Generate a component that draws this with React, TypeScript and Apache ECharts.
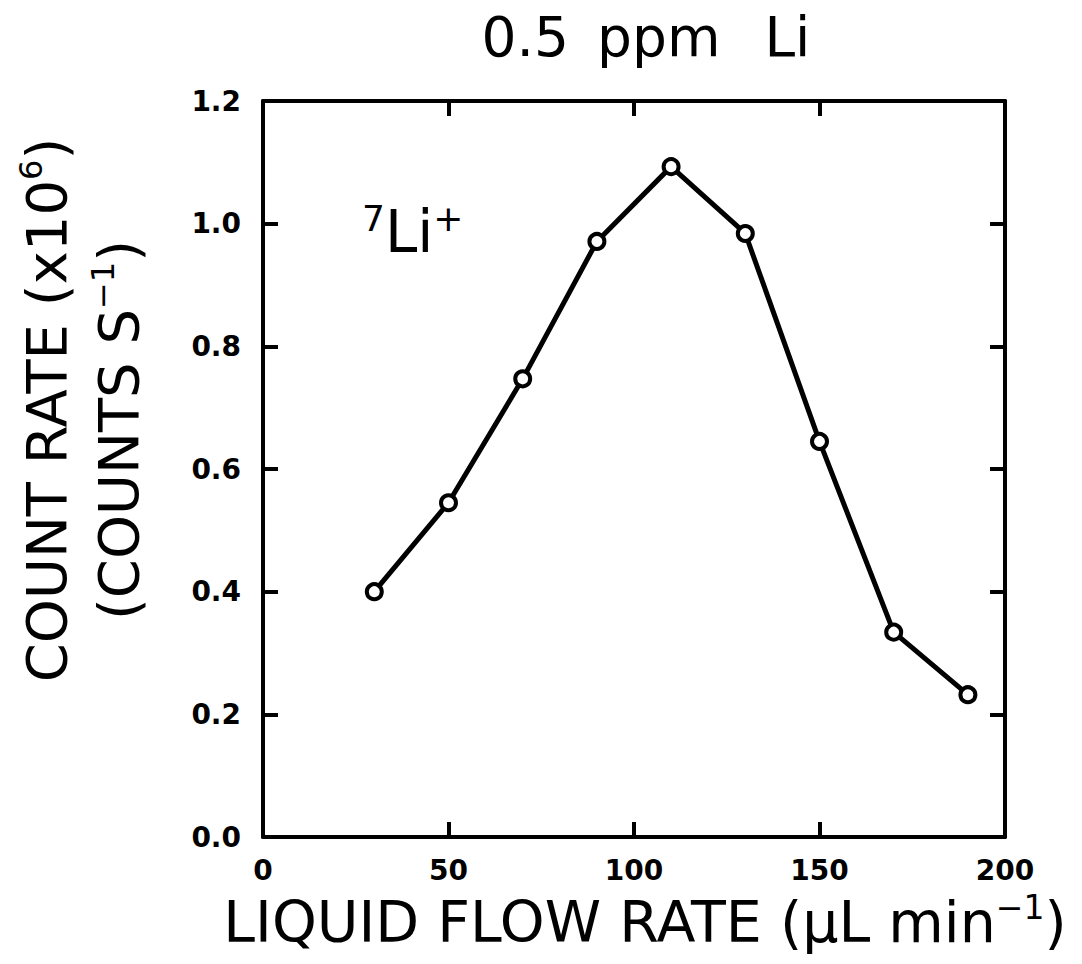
import React, { useEffect, useRef } from "react";
import * as echarts from "echarts";

const flowRates = [30, 50, 70, 90, 110, 130, 150, 170, 190];
const countRates = [0.4, 0.545, 0.747, 0.971, 1.093, 0.984, 0.645, 0.334, 0.232];
const xTicks = [0, 50, 100, 150, 200];
const yTicks = [0.0, 0.2, 0.4, 0.6, 0.8, 1.0, 1.2];
const titleParts = ["0.5", "ppm", "Li"];

const FONT = "'DejaVu Sans', sans-serif";
const LW = 4;

function richStyles(fs: number, sfs: number) {
  return {
    n: { fontSize: fs, fontFamily: FONT, fill: "#000", color: "#000", lineHeight: fs * 1.1 },
    s: { fontSize: sfs, fontFamily: FONT, fill: "#000", color: "#000", verticalAlign: "top", lineHeight: sfs * 1.2 },
  };
}

export default function App() {
  const ref = useRef<HTMLDivElement>(null);
  useEffect(() => {
    if (!ref.current) return;
    const chart = echarts.init(ref.current, null, { renderer: "svg" });
    const axisCommon = {
      axisLine: { show: true, onZero: false, lineStyle: { color: "#000", width: LW } },
      axisTick: { show: true, inside: true, length: 15, lineStyle: { color: "#000", width: LW } },
      splitLine: { show: false },
    };
    const xInterval = xTicks[1] - xTicks[0];
    const yInterval = yTicks[1] - yTicks[0];
    const labelStyle = {
      show: true,
      color: "#000",
      fontFamily: FONT,
      fontWeight: "bold",
      fontSize: 28,
    };
    chart.setOption({
      animation: false,
      backgroundColor: "#fff",
      grid: { left: 263, top: 101, right: 77, bottom: 127, containLabel: false },
      xAxis: [
        {
          type: "value",
          position: "bottom",
          min: xTicks[0],
          max: xTicks[xTicks.length - 1],
          interval: xInterval,
          ...axisCommon,
          axisLabel: { ...labelStyle, margin: 19, showMinLabel: true, showMaxLabel: true },
        },
        {
          type: "value",
          position: "top",
          min: xTicks[0],
          max: xTicks[xTicks.length - 1],
          interval: xInterval,
          ...axisCommon,
          axisLabel: { show: false },
        },
      ],
      yAxis: [
        {
          type: "value",
          position: "left",
          min: yTicks[0],
          max: yTicks[yTicks.length - 1],
          interval: yInterval,
          ...axisCommon,
          axisLabel: { ...labelStyle, margin: 22, formatter: (v: number) => v.toFixed(1) },
        },
        {
          type: "value",
          position: "right",
          min: yTicks[0],
          max: yTicks[yTicks.length - 1],
          interval: yInterval,
          ...axisCommon,
          axisLabel: { show: false },
        },
      ],
      series: [
        {
          type: "line",
          data: flowRates.map((x, i) => [x, countRates[i]]),
          symbol: "circle",
          symbolSize: 15,
          lineStyle: { color: "#000", width: 5 },
          itemStyle: { color: "#fff", borderColor: "#000", borderWidth: 4 },
          z: 3,
        },
      ],
      graphic: [
        {
          type: "text",
          x: 646,
          y: 37,
          style: {
            text: `{t|${titleParts[0]}}{g| }{t|${titleParts[1]}}{h| }{t|${titleParts[2]}}`,
            rich: {
              t: { fontSize: 55, fontFamily: FONT, fill: "#000", color: "#000" },
              g: { fontSize: 55, fontFamily: FONT, width: 28 },
              h: { fontSize: 55, fontFamily: FONT, width: 44 },
            },
            fill: "#000",
            align: "center",
            verticalAlign: "middle",
            textAlign: "center",
            textVerticalAlign: "middle",
          },
        },
        {
          type: "text",
          x: 46,
          y: 410,
          rotation: Math.PI / 2,
          style: {
            text: "{n|COUNT RATE (x10}{s|6}{n|)}",
            rich: richStyles(56, 32),
            fill: "#000",
            align: "center",
            verticalAlign: "middle",
            textAlign: "center",
            textVerticalAlign: "middle",
          },
        },
        {
          type: "text",
          x: 118,
          y: 430,
          rotation: Math.PI / 2,
          style: {
            text: "{n|(COUNTS S}{s|−1}{n|)}",
            rich: richStyles(56, 32),
            fill: "#000",
            align: "center",
            verticalAlign: "middle",
            textAlign: "center",
            textVerticalAlign: "middle",
          },
        },
        {
          type: "text",
          x: 645,
          y: 922,
          style: {
            text: "{n|LIQUID FLOW RATE (μL min}{s|−1}{n|)}",
            rich: richStyles(57, 33),
            fill: "#000",
            align: "center",
            verticalAlign: "middle",
            textAlign: "center",
            textVerticalAlign: "middle",
          },
        },
        {
          type: "text",
          x: 362,
          y: 232,
          style: {
            text: "{s|7}{n|Li}{s|+}",
            rich: richStyles(58, 36),
            fill: "#000",
            align: "left",
            verticalAlign: "middle",
            textAlign: "left",
            textVerticalAlign: "middle",
          },
        },
      ],
    });
    return () => chart.dispose();
  }, []);
  return (
    <div
      ref={ref}
      style={{ position: "fixed", left: 0, top: 0, width: 1082, height: 964, background: "#fff" }}
    />
  );
}
